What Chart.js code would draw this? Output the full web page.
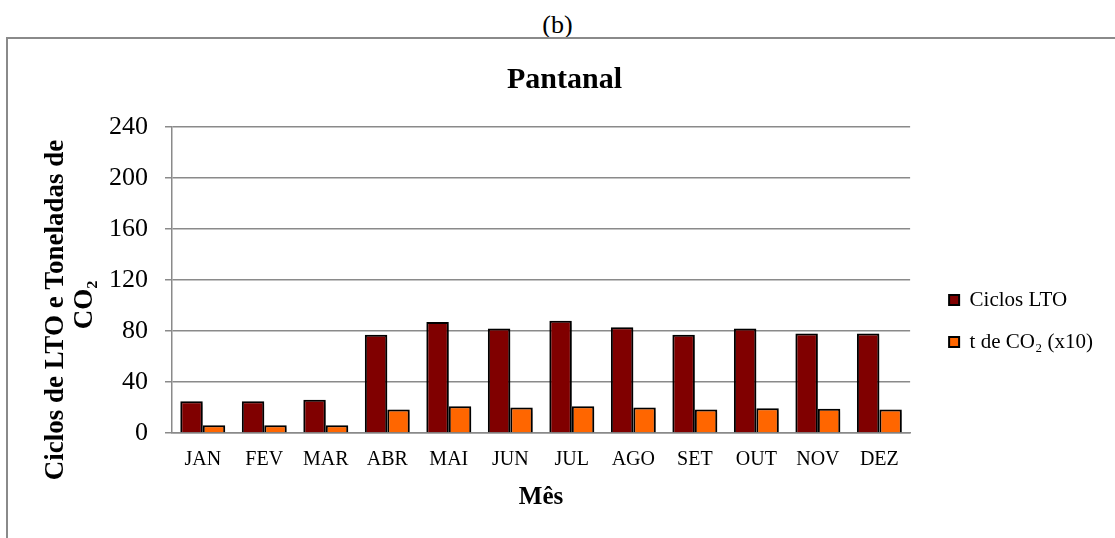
<!DOCTYPE html>
<html>
<head>
<meta charset="utf-8">
<script src="https://cdn.jsdelivr.net/npm/chart.js@4.4.1/dist/chart.umd.min.js"></script>
<style>
  body { margin: 0; background: #fff; font-family: "Liberation Serif", serif; }
  #rotulo { position: absolute; left: 0; top: 10px; width: 1115px; text-align: center; font-size: 26px; line-height: 30px; color: #000; }
  #marco { position: absolute; left: 6px; top: 37px; width: 1109px; height: 501px; border-top: 2px solid #8a8a8a; border-left: 2px solid #8a8a8a; box-sizing: border-box; }
</style>
</head>
<body>
<div id="rotulo">(b)</div>
<div id="marco"><canvas id="grafica"></canvas></div>
<script>
const meses = ['JAN', 'FEV', 'MAR', 'ABR', 'MAI', 'JUN', 'JUL', 'AGO', 'SET', 'OUT', 'NOV', 'DEZ'];
const ciclosLTO = [25, 25, 26, 77, 87, 82, 88, 83, 77, 82, 78, 78];
const toneladasCO2 = [6, 6, 6, 18.5, 21, 20, 21, 20, 18.5, 19.5, 19, 18.5];
const serieNomes = ['Ciclos LTO', 't de CO\u2082 (x10)'];
const cores = ['#800000', '#ff6600'];
const tituloEixoY = ['Ciclos de LTO e Toneladas de', 'CO\u2082'];

const fonte = 'Liberation Serif';

// el titulo del eje Y va centrado mas abajo que el area del grafico, se dibuja a mano
const tituloY = {
    id: 'tituloY',
    afterDraw(chart) {
        const c = chart.ctx;
        c.save();
        c.fillStyle = '#000';
        c.font = 'bold 27px "' + fonte + '"';
        c.textAlign = 'center';
        c.textBaseline = 'middle';
        c.translate(48, 271);
        c.rotate(-Math.PI / 2);
        c.fillText(tituloEixoY[0], 0, 0);
        c.fillText(tituloEixoY[1], 5, 29);
        c.restore();
    }
};

// mover leyenda y titulo a su sitio
const moverBloques = {
    id: 'moverBloques',
    afterLayout(chart) {
        const l = chart.legend;
        l.left += 18; l.right += 18;
        l.top += 45; l.bottom += 45;
        const t = chart.titleBlock;
        t.left -= 24; t.right -= 24;
    }
};

// sombra suave de las barras
const sombra = {
    id: 'sombra',
    beforeDatasetsDraw(chart) {
        const c = chart.ctx;
        c.save();
        c.shadowColor = 'rgba(0,0,0,0.35)';
        c.shadowBlur = 4;
        c.shadowOffsetX = 2;
        c.shadowOffsetY = 2;
    },
    afterDatasetsDraw(chart) {
        chart.ctx.restore();
    }
};

const ctx = document.getElementById('grafica');
ctx.width = 1107;
ctx.height = 499;
new Chart(ctx, {
    type: 'bar',
    data: {
        labels: meses,
        datasets: [{
            label: serieNomes[0],
            data: ciclosLTO,
            backgroundColor: cores[0],
            borderColor: '#000',
            borderWidth: 2,
            categoryPercentage: 0.73,
            barPercentage: 1
        }, {
            label: serieNomes[1],
            data: toneladasCO2,
            backgroundColor: cores[1],
            borderColor: '#000',
            borderWidth: 2,
            categoryPercentage: 0.73,
            barPercentage: 1
        }]
    },
    options: {
        responsive: false,
        animation: false,
        layout: { padding: { left: 84, right: 30, bottom: 25, top: 0 } },
        plugins: {
            title: {
                display: true,
                text: 'Pantanal',
                color: '#000',
                font: { family: fonte, size: 30, weight: 'bold' },
                padding: { top: 23, bottom: 29 }
            },
            legend: {
                position: 'right',
                labels: {
                    color: '#000',
                    font: { family: fonte, size: 21 },
                    boxWidth: 10,
                    boxHeight: 10,
                    padding: 21
                }
            },
            tooltip: { enabled: false }
        },
        scales: {
            x: {
                grid: { display: false, drawTicks: false },
                border: { color: '#8a8a8a', width: 1.5 },
                ticks: { color: '#000', font: { family: fonte, size: 20 }, padding: 15 },
                title: {
                    display: true,
                    text: 'Mês',
                    color: '#000',
                    font: { family: fonte, size: 25, weight: 'bold' },
                    padding: { top: -4, bottom: 0 }
                }
            },
            y: {
                min: 0,
                max: 240,
                ticks: { stepSize: 40, color: '#000', font: { family: fonte, size: 26 }, padding: 17 },
                grid: { color: '#8a8a8a', lineWidth: 1.5, tickLength: 7 },
                border: { color: '#8a8a8a', width: 1.5 }
            }
        }
    },
    plugins: [tituloY, moverBloques, sombra]
});
</script>
</body>
</html>
